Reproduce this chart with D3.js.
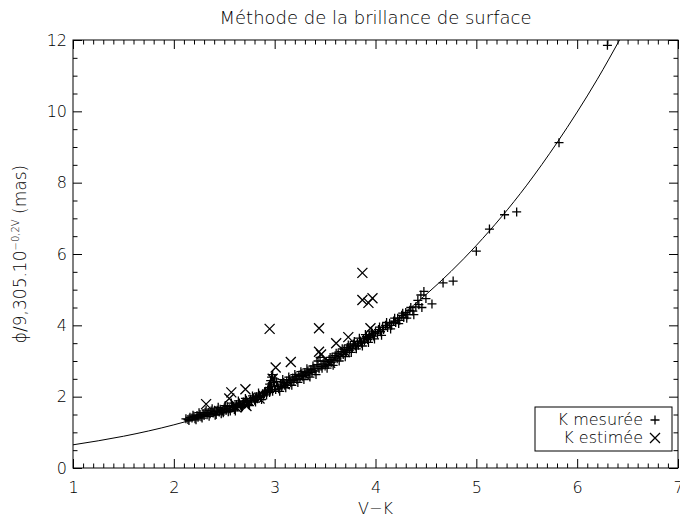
<!DOCTYPE html>
<html>
<head>
<meta charset="utf-8">
<script src="https://cdn.jsdelivr.net/npm/d3@7/dist/d3.min.js"></script>
<style>
  body { margin: 0; background: #fff; }
  svg { display: block; }
  text { font-family: "DejaVu Sans", sans-serif; font-weight: 200; fill: #000; }
</style>
</head>
<body>
<div id="chart"></div>
<script>
// K mesurée : [V-K, phi/9.305.10^-0.2V]
const mesurees = [
  [2.12,1.38],[2.14,1.36],[2.16,1.42],[2.18,1.40],[2.20,1.45],[2.21,1.38],[2.23,1.47],[2.24,1.42],
  [2.26,1.50],[2.27,1.44],[2.29,1.52],[2.30,1.47],[2.31,1.56],[2.33,1.49],[2.34,1.55],[2.36,1.52],
  [2.37,1.60],[2.39,1.54],[2.40,1.58],[2.42,1.50],[2.43,1.62],[2.45,1.57],[2.46,1.65],[2.48,1.60],
  [2.49,1.55],[2.50,1.68],[2.52,1.62],[2.53,1.72],[2.55,1.66],[2.56,1.60],[2.58,1.75],[2.59,1.70],
  [2.60,1.64],[2.62,1.78],[2.63,1.72],[2.65,1.82],[2.66,1.76],[2.67,1.69],[2.69,1.85],[2.70,1.80],
  [2.72,1.90],[2.73,1.84],[2.74,1.78],[2.76,1.93],[2.77,1.88],[2.79,1.97],[2.80,1.90],[2.82,2.00],
  [2.83,1.94],[2.85,2.04],[2.86,1.98],[2.88,2.08],[2.89,2.02],[2.90,2.12],
  [2.92,2.05],[2.93,2.18],[2.94,2.25],[2.95,2.12],[2.95,2.35],[2.96,2.45],[2.96,2.20],[2.97,2.55],
  [2.97,2.30],[2.98,2.62],[2.98,2.15],[2.99,2.40],[3.00,2.28],[3.00,2.50],[3.01,2.20],
  [3.03,2.30],[3.04,2.22],[3.06,2.35],[3.07,2.28],[3.09,2.40],[3.10,2.32],[3.12,2.44],[3.13,2.36],
  [3.15,2.48],[3.16,2.40],[3.18,2.52],[3.19,2.45],[3.21,2.56],[3.22,2.48],[3.24,2.60],[3.25,2.52],
  [3.27,2.64],[3.28,2.56],[3.30,2.68],[3.31,2.60],[3.33,2.72],[3.34,2.64],[3.36,2.76],[3.37,2.68],
  [3.39,2.80],[3.40,2.72],[3.42,2.90],[3.43,3.00],[3.44,2.78],[3.45,3.10],[3.46,2.85],
  [3.47,2.80],[3.48,2.92],[3.50,2.86],[3.51,2.98],[3.53,2.90],[3.54,3.04],[3.56,2.96],[3.57,3.10],
  [3.59,3.02],[3.60,3.15],[3.62,3.06],[3.63,3.20],[3.65,3.12],[3.66,3.26],[3.68,3.18],[3.69,3.32],
  [3.71,3.24],[3.72,3.38],[3.74,3.30],[3.75,3.42],[3.77,3.36],[3.78,3.48],[3.80,3.42],
  [3.82,3.50],[3.83,3.44],[3.85,3.56],[3.86,3.50],[3.88,3.62],[3.89,3.56],[3.91,3.68],[3.92,3.60],
  [3.94,3.72],[3.95,3.66],[3.97,3.78],[3.98,3.70],[4.00,3.82],[4.02,3.76],[4.03,3.88],[4.05,3.82],
  [4.07,3.94],[4.08,3.88],[4.10,4.00],[4.12,3.94],[4.14,4.06],[4.16,4.00],[4.18,4.12],[4.20,4.08],
  [4.22,4.20],[4.24,4.14],[4.26,4.28],[4.28,4.22],[4.30,4.36],[4.32,4.30],[4.34,4.42],[4.37,4.40],
  [4.40,4.52],[4.42,4.70],[4.45,4.85],[4.48,4.95],[4.50,4.75],[4.56,4.60],[4.67,5.19],[4.77,5.24],
  [5.00,6.08],[5.13,6.70],[5.28,7.10],[5.40,7.18],[5.82,9.12],[6.30,11.85],
  [2.15,1.33],[2.19,1.48],[2.22,1.35],[2.25,1.55],[2.28,1.40],[2.32,1.62],[2.35,1.45],[2.38,1.66],
  [2.41,1.48],[2.44,1.70],[2.47,1.52],[2.51,1.75],[2.54,1.58],[2.57,1.82],[2.61,1.60],[2.64,1.88],
  [2.68,1.72],[2.71,1.95],[2.75,1.75],[2.78,2.02],[2.81,1.85],[2.84,2.10],[2.87,1.92],[2.91,2.15],
  [3.02,2.42],[3.05,2.15],[3.08,2.48],[3.11,2.25],[3.14,2.55],[3.17,2.32],[3.20,2.62],[3.23,2.40],
  [3.26,2.70],[3.29,2.48],[3.32,2.78],[3.35,2.55],[3.38,2.86],[3.41,2.62],[3.49,3.00],[3.52,2.80],
  [3.55,3.10],[3.58,2.88],[3.61,3.22],[3.64,3.00],[3.67,3.34],[3.70,3.12],[3.73,3.45],[3.76,3.24],
  [3.79,3.55],[3.81,3.34],[3.84,3.64],[3.87,3.42],[3.90,3.74],[3.93,3.52],[3.96,3.84],[3.99,3.62],
  [4.04,3.95],[4.06,3.72],[4.11,4.08],[4.15,3.90],[4.19,4.20],[4.23,4.05],[4.27,4.34],[4.31,4.20],
  [4.35,4.50],[4.38,4.30],[4.43,4.58],[4.46,4.50]
];

// K estimée
const estimees = [
  [2.32,1.79],[2.45,1.60],[2.55,1.95],[2.57,2.12],[2.62,1.70],[2.71,2.21],[2.72,1.74],[2.85,1.95],
  [2.95,3.90],[2.98,2.50],[3.01,2.82],[3.10,2.35],[3.16,2.97],[3.30,2.60],[3.44,3.92],[3.44,3.26],
  [3.46,3.18],[3.55,2.95],[3.61,3.50],[3.70,3.25],[3.73,3.67],[3.87,5.47],[3.87,4.71],[3.93,4.63],
  [3.97,4.76],[3.95,3.92]
];

// relation ajustée
const courbe = [
  [1.0,0.65],[1.5,0.89],[2.0,1.21],[2.5,1.63],[3.0,2.17],[3.5,2.87],[4.0,3.75],
  [4.5,4.86],[5.0,6.24],[5.5,7.93],[5.8,9.12],[6.0,9.98],[6.2,10.9],[6.42,12.0]
];

const xTicks = [1, 2, 3, 4, 5, 6, 7];
const yTicks = [0, 2, 4, 6, 8, 10, 12];

const W = 680, H = 522;
const L = 73, R = 678, T = 40, B = 468;

const svg = d3.select("#chart").append("svg")
  .attr("width", W).attr("height", H);

const x = d3.scaleLinear().domain([1, 7]).range([L, R]);
const y = d3.scaleLinear().domain([0, 12]).range([B, T]);

const xMinor = d3.range(1, 7.001, 0.1).map(v => +v.toFixed(1)).filter(v => !xTicks.includes(v));
const yMinor = d3.range(0, 12.001, 0.5).filter(v => !yTicks.includes(v));

const fs = "16px";

// ---- axes (ticks vers l'intérieur) ----
function styleAxis(g) {
  g.select(".domain").remove();
  g.selectAll("line").attr("stroke", "#000").attr("stroke-width", 1);
  g.selectAll("text").style("font-size", fs).attr("fill", "#000");
}

svg.append("g").attr("transform", `translate(0,${B})`)
  .call(d3.axisBottom(x).tickValues(xTicks).tickSize(-9).tickSizeOuter(0).tickPadding(14).tickFormat(d3.format("d")))
  .call(styleAxis);
svg.append("g").attr("transform", `translate(0,${B})`)
  .call(d3.axisBottom(x).tickValues(xMinor).tickSize(-4.5).tickSizeOuter(0).tickFormat(""))
  .call(styleAxis);
svg.append("g").attr("transform", `translate(0,${T})`)
  .call(d3.axisTop(x).tickValues(xTicks).tickSize(-9).tickSizeOuter(0).tickFormat(""))
  .call(styleAxis);
svg.append("g").attr("transform", `translate(0,${T})`)
  .call(d3.axisTop(x).tickValues(xMinor).tickSize(-4.5).tickSizeOuter(0).tickFormat(""))
  .call(styleAxis);

svg.append("g").attr("transform", `translate(${L},0)`)
  .call(d3.axisLeft(y).tickValues(yTicks).tickSize(-9).tickSizeOuter(0).tickPadding(6).tickFormat(d3.format("d")))
  .call(styleAxis);
svg.append("g").attr("transform", `translate(${L},0)`)
  .call(d3.axisLeft(y).tickValues(yMinor).tickSize(-4.5).tickSizeOuter(0).tickFormat(""))
  .call(styleAxis);
svg.append("g").attr("transform", `translate(${R},0)`)
  .call(d3.axisRight(y).tickValues(yTicks).tickSize(-9).tickSizeOuter(0).tickFormat(""))
  .call(styleAxis);
svg.append("g").attr("transform", `translate(${R},0)`)
  .call(d3.axisRight(y).tickValues(yMinor).tickSize(-4.5).tickSizeOuter(0).tickFormat(""))
  .call(styleAxis);

svg.append("rect")
  .attr("x", L).attr("y", T).attr("width", R - L).attr("height", B - T)
  .attr("fill", "none").attr("stroke", "#000").attr("stroke-width", 1);

// ---- courbe ----
const plot = svg.append("g");
svg.append("clipPath").attr("id", "clip")
  .append("rect").attr("x", L).attr("y", T).attr("width", R - L).attr("height", B - T);
plot.attr("clip-path", "url(#clip)");

plot.append("path")
  .datum(courbe)
  .attr("fill", "none")
  .attr("stroke", "#000")
  .attr("stroke-width", 1)
  .attr("d", d3.line().x(d => x(d[0])).y(d => y(d[1])).curve(d3.curveMonotoneX));

// ---- symboles ----
const ps = 4.5, cs = 5;
const plusPath = `M${-ps},0H${ps}M0,${-ps}V${ps}`;
const crossPath = `M${-cs},${-cs}L${cs},${cs}M${-cs},${cs}L${cs},${-cs}`;

plot.selectAll(".plus").data(mesurees).enter().append("path")
  .attr("class", "plus")
  .attr("transform", d => `translate(${x(d[0])},${y(d[1])})`)
  .attr("d", plusPath)
  .attr("stroke", "#000").attr("stroke-width", 1.3).attr("fill", "none");

plot.selectAll(".cross").data(estimees).enter().append("path")
  .attr("class", "cross")
  .attr("transform", d => `translate(${x(d[0])},${y(d[1])})`)
  .attr("d", crossPath)
  .attr("stroke", "#000").attr("stroke-width", 1.3).attr("fill", "none");

// ---- titres ----
svg.append("text")
  .attr("x", (L + R) / 2).attr("y", 24)
  .attr("text-anchor", "middle")
  .style("font-size", "18px")
  .text("Méthode de la brillance de surface");

svg.append("text")
  .attr("x", (L + R) / 2).attr("y", 514)
  .attr("text-anchor", "middle")
  .style("font-size", fs)
  .text("V−K");

const yl = svg.append("text")
  .attr("transform", `translate(26,${(T + B) / 2}) rotate(-90)`)
  .attr("text-anchor", "middle")
  .style("font-size", "17px");
yl.append("tspan").text("ϕ/9,305.10");
yl.append("tspan").attr("dy", -7).style("font-size", "10px").text("−0,2V");
yl.append("tspan").attr("dy", 7).text(" (mas)");

// ---- légende ----
const leg = svg.append("g");
leg.append("rect")
  .attr("x", 535).attr("y", 407).attr("width", 137).attr("height", 44)
  .attr("fill", "#fff").attr("stroke", "#000").attr("stroke-width", 1);
const rows = [["K mesurée", plusPath], ["K estimée", crossPath]];
rows.forEach((r, i) => {
  const cy = 420 + i * 18;
  leg.append("text")
    .attr("x", 643).attr("y", cy + 5)
    .attr("text-anchor", "end")
    .style("font-size", fs)
    .text(r[0]);
  leg.append("path")
    .attr("transform", `translate(655,${cy})`)
    .attr("d", r[1])
    .attr("stroke", "#000").attr("stroke-width", 1.3).attr("fill", "none");
});
</script>
</body>
</html>
